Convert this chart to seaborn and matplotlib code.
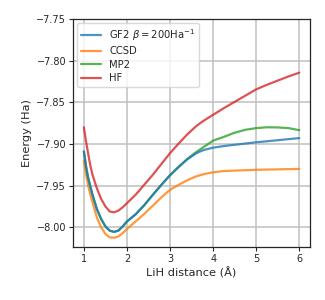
import numpy as np
import pandas as pd
import matplotlib
matplotlib.use("Agg")
import matplotlib.pyplot as plt
import seaborn as sns

# LiH bond distance (Angstrom)
dist = [1.0, 1.05, 1.1, 1.15, 1.2, 1.3, 1.4, 1.5, 1.6, 1.7, 1.8, 1.9, 2.0,
        2.2, 2.4, 2.6, 2.8, 3.0, 3.2, 3.4, 3.6, 3.7, 3.8, 4.0, 4.25, 4.5,
        4.75, 5.0, 5.25, 5.5, 5.75, 6.0]

# energies (Ha)
gf2 = [-7.909, -7.927, -7.941, -7.951, -7.961, -7.978, -7.990, -7.999, -8.004,
       -8.0055, -8.004, -7.999, -7.993, -7.9845, -7.9735, -7.961, -7.949,
       -7.9375, -7.9275, -7.9185, -7.9115, -7.909, -7.907, -7.9045, -7.9025,
       -7.901, -7.8995, -7.898, -7.8968, -7.8955, -7.8942, -7.893]
ccsd = [-7.920, -7.937, -7.950, -7.961, -7.970, -7.988, -8.000, -8.008, -8.012,
        -8.0125, -8.011, -8.007, -8.002, -7.993, -7.984, -7.974, -7.964,
        -7.955, -7.949, -7.9435, -7.939, -7.9375, -7.936, -7.934, -7.9325,
        -7.932, -7.9315, -7.931, -7.9307, -7.9305, -7.9302, -7.930]
mp2 = [-7.909, -7.927, -7.941, -7.951, -7.961, -7.978, -7.990, -7.999, -8.004,
       -8.0055, -8.004, -7.999, -7.993, -7.9845, -7.9735, -7.961, -7.949,
       -7.9375, -7.9275, -7.9180, -7.910, -7.9065, -7.903, -7.896, -7.8915,
       -7.8865, -7.883, -7.881, -7.880, -7.8802, -7.881, -7.8835]
hf = [-7.880, -7.897, -7.912, -7.926, -7.937, -7.953, -7.966, -7.975, -7.981,
      -7.982, -7.980, -7.976, -7.971, -7.961, -7.949, -7.937, -7.924, -7.911,
      -7.8995, -7.8885, -7.879, -7.875, -7.8715, -7.865, -7.857, -7.8495,
      -7.842, -7.8345, -7.829, -7.824, -7.819, -7.8145]

labels = [r"GF2 $\beta=200$Ha$^{-1}$", "CCSD", "MP2", "HF"]

df = pd.concat([
    pd.DataFrame({"dist": dist, "energy": vals, "method": lab})
    for vals, lab in zip([gf2, ccsd, mp2, hf], labels)
])

sns.set_style("ticks", {"axes.grid": True, "grid.color": "#c0c0c0",
                        "axes.edgecolor": "#262626"})
plt.rcParams["font.family"] = ["DejaVu Sans"]
plt.rcParams["axes.unicode_minus"] = True

fig, ax = plt.subplots(figsize=(3.25, 3.0), dpi=100)
fig.subplots_adjust(left=0.225, right=0.954, bottom=0.177, top=0.937)

palette = ["#1f77b4", "#ff7f0e", "#2ca02c", "#d62728"]
sns.lineplot(data=df, x="dist", y="energy", hue="method", hue_order=labels,
             palette=palette, linewidth=1.6, alpha=0.8, ax=ax)

# GF2 sits on top of MP2 where they coincide
ax.get_lines()[0].set_zorder(5)

ax.set_xlim(0.75, 6.25)
ax.set_ylim(-8.0235, -7.75)
ax.set_xticks([1, 2, 3, 4, 5, 6])
ax.set_yticks([-8.00, -7.95, -7.90, -7.85, -7.80, -7.75])
ax.ticklabel_format(axis="y", useOffset=False)
ax.tick_params(labelsize=7, length=3, width=0.8, pad=2)
ax.grid(True, linewidth=1.1, color="#c0c0c0")
for sp in ax.spines.values():
    sp.set_linewidth(0.9)

ax.set_xlabel("LiH distance (Å)", fontsize=8.2, labelpad=2)
ax.set_ylabel("Energy (Ha)", fontsize=8.2, labelpad=3)

leg = ax.legend(loc="upper left", fontsize=7.2, frameon=True, handlelength=2,
                borderaxespad=0.4, labelspacing=0.35)
leg.get_frame().set_edgecolor("#d0d0d0")
for h in leg.get_lines():
    h.set_linewidth(1.6)

fig.savefig("out.png", dpi=100)
